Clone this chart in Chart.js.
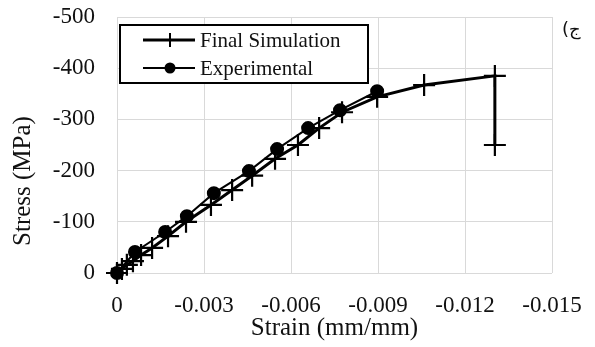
<!DOCTYPE html>
<html>
<head>
<meta charset="utf-8">
<script src="https://cdn.jsdelivr.net/npm/chart.js@4"></script>
<style>
  html, body { margin: 0; padding: 0; background: #fff; }
  #wrap { position: relative; width: 595px; height: 347px; }
  #tag { position: absolute; left: 562px; top: 18px; font: 18px "DejaVu Sans", "Noto Sans", sans-serif; color: #111;
         direction: ltr; unicode-bidi: bidi-override; }
</style>
</head>
<body>
<div id="wrap">
  <canvas id="chart" width="595" height="347"></canvas>
  <div id="tag">(ج</div>
</div>
<script>
// Final simulation (strain mm/mm, stress MPa)
const simStrain = [0, -0.00017, -0.00034, -0.00055, -0.00083, -0.00121, -0.00176, -0.00238, -0.00324, -0.00397,
                   -0.00466, -0.00545, -0.00624, -0.00697, -0.00776, -0.00897, -0.01059, -0.01303, -0.01303]
const simStress = [0, -8, -16, -23, -35, -49, -72, -100, -133, -162,
                   -190, -223, -250, -283, -314, -344, -367, -385, -250]

// Experimental
const expStrain = [0, -0.00062, -0.00166, -0.00241, -0.00334, -0.00455, -0.00552, -0.00659, -0.00769, -0.00897]
const expStress = [0, -41, -80, -111, -156, -199, -242, -283, -318, -355]

const xTicks = [0, -0.003, -0.006, -0.009, -0.012, -0.015]
const yTicks = [0, -100, -200, -300, -400, -500]

const seriesNames = ['Final Simulation', 'Experimental']
const xTitle = 'Strain (mm/mm)'
const yTitle = 'Stress (MPa)'

const FONT = '"Liberation Serif", "Times New Roman", serif'
const ctx = document.getElementById('chart').getContext('2d')

const toPoints = (xs, ys) => xs.map((x, i) => ({ x: x, y: ys[i] }))

// axis titles and the boxed legend inside the plot
const extras = {
    id: 'extras',
    afterDraw(chart) {
        const c = chart.ctx
        const a = chart.chartArea
        c.save()
        c.fillStyle = '#111'
        c.font = '25px ' + FONT
        c.textAlign = 'center'
        c.textBaseline = 'middle'
        c.fillText(xTitle, (a.left + a.right) / 2, 328)
        c.translate(23, 181)
        c.rotate(-Math.PI / 2)
        c.fillText(yTitle, 0, 0)
        c.restore()

        // legend
        const lx = a.left + 3, ly = a.top + 8, lw = 248, lh = 58
        c.save()
        c.fillStyle = '#fff'
        c.fillRect(lx, ly, lw, lh)
        c.strokeStyle = '#000'
        c.lineWidth = 2
        c.strokeRect(lx, ly, lw, lh)
        chart.data.datasets.forEach((ds, i) => {
            const cy = ly + 15 + i * 28
            c.strokeStyle = '#000'
            c.lineWidth = ds.borderWidth
            c.beginPath()
            c.moveTo(lx + 23, cy)
            c.lineTo(lx + 75, cy)
            c.stroke()
            if (ds.pointStyle === 'cross') {
                c.lineWidth = 2
                c.beginPath()
                c.moveTo(lx + 50, cy - 7)
                c.lineTo(lx + 50, cy + 7)
                c.stroke()
            } else {
                c.fillStyle = '#000'
                c.beginPath()
                c.arc(lx + 50, cy, 5.5, 0, Math.PI * 2)
                c.fill()
            }
            c.fillStyle = '#111'
            c.font = '21px ' + FONT
            c.textAlign = 'left'
            c.textBaseline = 'middle'
            c.fillText(ds.label, lx + 80, cy + 1)
        })
        c.restore()
    }
}

new Chart(ctx, {
    type: 'scatter',
    data: {
        datasets: [{
            label: seriesNames[0],
            data: toPoints(simStrain, simStress),
            showLine: true,
            borderColor: '#000',
            borderWidth: 3,
            pointStyle: 'cross',
            pointRadius: 11,
            pointBorderWidth: 2.2,
            pointBorderColor: '#000',
            clip: false
        }, {
            label: seriesNames[1],
            data: toPoints(expStrain, expStress),
            showLine: true,
            borderColor: '#000',
            borderWidth: 2,
            pointStyle: 'circle',
            pointRadius: 6,
            pointBackgroundColor: '#000',
            pointBorderColor: '#000',
            clip: false
        }]
    },
    options: {
        responsive: false,
        animation: false,
        devicePixelRatio: 1,
        layout: { padding: { top: 17, right: 43, left: 0, bottom: 0 } },
        plugins: {
            legend: { display: false },
            tooltip: { enabled: false }
        },
        scales: {
            x: {
                type: 'linear',
                min: Math.min(...xTicks),
                max: Math.max(...xTicks),
                reverse: true,
                afterFit: (s) => { s.height = 74; s.paddingLeft = 0; s.paddingRight = 0 },
                afterBuildTicks: (s) => { s.ticks = xTicks.map(v => ({ value: v })) },
                grid: { color: '#d9d9d9', lineWidth: 1, drawTicks: false },
                border: { display: false },
                ticks: {
                    padding: 19,
                    color: '#111',
                    font: { family: FONT, size: 23 },
                    maxRotation: 0,
                    callback: (v) => Math.abs(v) < 1e-9 ? '0' : v.toFixed(3)
                }
            },
            y: {
                type: 'linear',
                min: Math.min(...yTicks),
                max: Math.max(...yTicks),
                reverse: true,
                afterFit: (s) => { s.width = 117; s.paddingTop = 0; s.paddingBottom = 0 },
                afterBuildTicks: (s) => { s.ticks = yTicks.map(v => ({ value: v })) },
                grid: { color: '#d9d9d9', lineWidth: 1, drawTicks: false },
                border: { display: false },
                ticks: {
                    padding: 22,
                    color: '#111',
                    font: { family: FONT, size: 23 },
                    callback: (v) => String(v)
                }
            }
        }
    },
    plugins: [extras]
})
</script>
</body>
</html>
